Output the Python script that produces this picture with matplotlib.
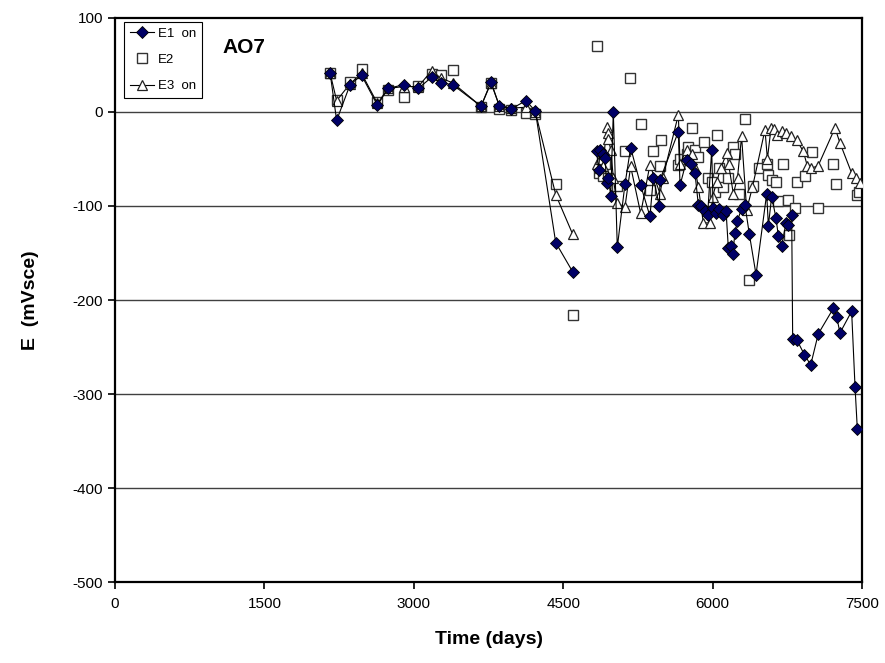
import matplotlib
matplotlib.use("Agg")
import matplotlib.pyplot as plt

plt.rcParams['font.family'] = ['Liberation Sans', 'DejaVu Sans']
plt.rcParams['axes.unicode_minus'] = False

nan = float('nan')

# E1 on (diamonds, connected; gap between the two campaigns)
t1 = [2160, 2225, 2360, 2475, 2635, 2740, 2900, 3045, 3180, 3270, 3390, 3675, 3775, 3860,
      3975, 4125, 4220, 4425, 4595, 4700,
      4836, 4855, 4870, 4900, 4920, 4935, 4953, 4977, 5003, 5043, 5120, 5177, 5278, 5371,
      5405, 5465, 5472, 5656, 5673, 5740, 5780, 5823, 5857, 5880, 5920, 5950, 5991, 6005,
      6030, 6060, 6100, 6135, 6158, 6181, 6201, 6225, 6248, 6291, 6325, 6369, 6436, 6543,
      6560, 6593, 6637, 6660, 6693, 6737, 6760, 6794, 6804, 6844, 6921, 6985, 7061, 7212,
      7246, 7279, 7396, 7430, 7453]
e1 = [41, -9, 29, 39, 7, 25, 29, 25, 37, 31, 29, 6, 32, 6,
      3, 12, 1, -139, -170, nan,
      -42, -62, -40, -45, -49, -76, -70, -89, 0, -144, -77, -38, -78, -111,
      -70, -100, -72, -21, -78, -51, -55, -65, -99, -100, -105, -110, -40, -102,
      -108, -103, -110, -105, -145, -143, -151, -129, -116, -103, -99, -130, -173, -87,
      -121, -90, -113, -132, -143, -118, -120, -110, -241, -242, -258, -269, -236, -209,
      -218, -235, -212, -292, -337]

# E2 (open squares, markers only)
t2 = [2160, 2225, 2360, 2475, 2635, 2740, 2900, 3045, 3180, 3270, 3390, 3675, 3775, 3860,
      3975, 4125, 4220, 4425, 4595,
      4836, 4855, 4870, 4900, 4920, 4953, 5037, 5120, 5171, 5278, 5371, 5405, 5472, 5479,
      5656, 5673, 5740, 5756, 5790, 5823, 5857, 5914, 5950, 5990, 6020, 6047, 6060, 6100,
      6150, 6208, 6225, 6268, 6325, 6369, 6409, 6470, 6543, 6560, 6593, 6637, 6660, 6710,
      6760, 6770, 6827, 6844, 6928, 6995, 7061, 7212, 7239, 7446, 7470]
e2 = [41, 13, 32, 46, 11, 23, 16, 28, 40, 39, 45, 5, 31, 3,
      2, -1, -2, -77, -216,
      70, -65, -60, -68, -55, -70, -79, -42, 36, -13, -83, -42, -58, -30,
      -56, -50, -45, -37, -17, -40, -48, -32, -70, -75, -85, -24, -60, -80,
      -70, -37, -45, -87, -8, -179, -79, -60, -55, -67, -72, -74, -95, -55,
      -94, -131, -102, -75, -68, -43, -102, -55, -77, -88, -85]

# E3 on (open triangles, connected; gap between the two campaigns)
t3 = [2160, 2225, 2360, 2475, 2635, 2740, 2900, 3045, 3180, 3270, 3390, 3675, 3775, 3860,
      3975, 4125, 4220, 4425, 4595, 4700,
      4836, 4870, 4900, 4936, 4945, 4953, 4977, 5003, 5037, 5120, 5177, 5278, 5371, 5472,
      5500, 5656, 5673, 5740, 5790, 5823, 5857, 5907, 5974, 6000, 6040, 6080, 6141, 6160,
      6208, 6250, 6291, 6342, 6400, 6526, 6550, 6587, 6620, 6650, 6700, 6740, 6790, 6844,
      6911, 6950, 6990, 7061, 7229, 7279, 7396, 7440, 7480]
e3 = [41, 12, 30, 41, 9, 25, 27, 27, 44, 36, 31, 6, 31, 6,
      4, 5, 0, -88, -130, nan,
      -55, -50, -58, -16, -22, -29, -40, -70, -97, -101, -58, -108, -56, -87,
      -70, -3, -55, -40, -45, -60, -80, -118, -118, -90, -75, -60, -44, -55,
      -87, -70, -26, -104, -80, -19, -50, -17, -18, -25, -20, -22, -26, -30,
      -42, -57, -60, -57, -17, -33, -65, -70, -76]

fig = plt.figure(figsize=(8.85, 6.63), dpi=100)
ax = fig.add_axes([0.130, 0.122, 0.844, 0.851])

for yv in range(-400, 100, 100):
    ax.axhline(yv, color='#404040', lw=1.0, zorder=1)

ax.plot(t2, e2, ls='none', marker='s', ms=7.5, mfc='white', mec='#333333', mew=1.0,
        label='E2', zorder=2)
ax.plot(t3, e3, color='black', lw=0.8, marker='^', ms=7.5, mfc='white', mec='#222222',
        mew=0.9, label='E3  on', zorder=3)
ax.plot(t1, e1, color='black', lw=0.8, marker='D', ms=5.8, mfc='#000066', mec='black',
        mew=0.6, label='E1  on', zorder=4)

ax.set_xlim(0, 7500)
ax.set_ylim(-500, 100)
ax.set_xticks(range(0, 7501, 1500))
ax.set_yticks(range(-500, 101, 100))
ax.tick_params(labelsize=11, length=5, width=1.2, direction='out')
ax.tick_params(axis='x', pad=6)

for s in ax.spines.values():
    s.set_linewidth(1.6)
    s.set_color('black')

ax.set_xlabel('Time (days)', fontsize=14, fontweight='bold', labelpad=14)
ax.set_ylabel('E  (mVsce)', fontsize=14, fontweight='bold', labelpad=24)

ax.text(1075, 68, 'AO7', fontsize=15, fontweight='bold', va='center', ha='left')

handles, labels = ax.get_legend_handles_labels()
order = [2, 0, 1]
leg = ax.legend([handles[i] for i in order], [labels[i] for i in order],
                loc='upper left', bbox_to_anchor=(0.012, 0.993), borderaxespad=0,
                fontsize=9.5, handlelength=1.8, handletextpad=0.3, labelspacing=1.05,
                borderpad=0.45, fancybox=False, framealpha=1, edgecolor='black')
leg.get_frame().set_linewidth(0.8)

fig.savefig('out.png', dpi=100)
